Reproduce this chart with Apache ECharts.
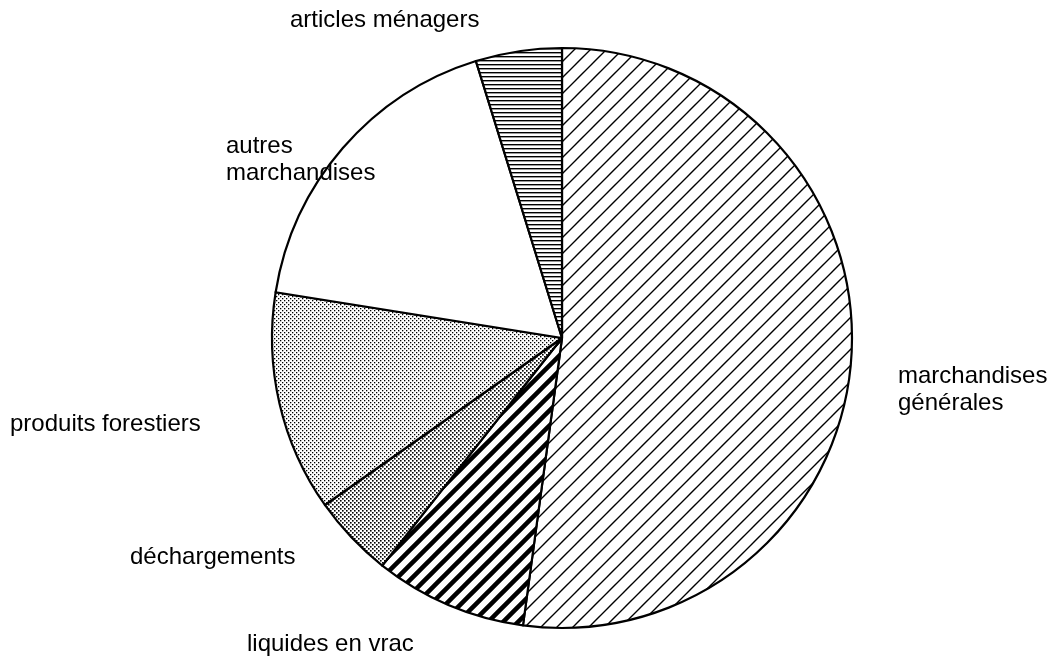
<!DOCTYPE html>
<html>
<head>
<meta charset="utf-8">
<script src="https://cdn.jsdelivr.net/npm/echarts@6/dist/echarts.min.js"></script>
<style>
  html, body { margin: 0; padding: 0; background: #fff; }
  #chart { width: 1055px; height: 665px; }
</style>
</head>
<body>
<div id="chart"></div>
<script>
// slices clockwise from 12 o'clock
const categories = ['marchandises\ngénérales', 'liquides en vrac', 'déchargements', 'produits forestiers', 'autres\nmarchandises', 'articles ménagers'];
const values = [52.2, 8.5, 4.6, 12.3, 17.7, 4.8];

// label anchor points (left edge / middle of first line)
const labelPos = [
  [898, 376],
  [247, 644],
  [130, 557],
  [10, 424],
  [226, 146],
  [290, 20]
];

function tile(w, h, draw) {
  const c = document.createElement('canvas');
  c.width = w; c.height = h;
  const ctx = c.getContext('2d');
  ctx.fillStyle = '#fff';
  ctx.fillRect(0, 0, w, h);
  ctx.fillStyle = '#000';
  ctx.strokeStyle = '#000';
  draw(ctx);
  return { image: c, repeat: 'repeat' };
}

function diag(size, lw) {
  return tile(size, size, ctx => {
    ctx.lineWidth = lw;
    ctx.beginPath();
    for (const o of [-size, 0, size]) {
      ctx.moveTo(o - size, 2 * size);
      ctx.lineTo(o + 2 * size, -size);
    }
    ctx.stroke();
  });
}

function dots(step, r) {
  return tile(step, step, ctx => {
    ctx.fillRect(0, 0, r, r);
    ctx.fillRect(step / 2, step / 2, r, r);
  });
}

const fills = [
  diag(16, 1.4),
  diag(15, 4.5),
  dots(4, 1.6),
  dots(4, 1.3),
  '#ffffff',
  tile(4, 4, ctx => { ctx.fillRect(0, 0, 4, 1.4); })
];

const chart = echarts.init(document.getElementById('chart'));
chart.setOption({
  backgroundColor: '#fff',
  animation: false,
  series: [{
    type: 'pie',
    center: [562, 338],
    radius: 290,
    startAngle: 90,
    clockwise: true,
    silent: true,
    data: categories.map((name, i) => ({
      name,
      value: values[i],
      itemStyle: { color: fills[i] }
    })),
    itemStyle: { borderColor: '#000', borderWidth: 2.2 },
    labelLine: { show: false },
    label: {
      show: true,
      position: 'outside',
      formatter: '{b}',
      color: '#000',
      fontFamily: 'Liberation Sans, Arial, sans-serif',
      fontSize: 24,
      lineHeight: 27,
      align: 'left',
      overflow: 'none'
    },
    labelLayout: params => {
      const p = labelPos[params.dataIndex];
      const lines = categories[params.dataIndex].split('\n').length;
      return {
        x: p[0],
        y: p[1] + (lines - 1) * 13.5,
        align: 'left',
        verticalAlign: 'middle'
      };
    }
  }]
});
</script>
</body>
</html>
